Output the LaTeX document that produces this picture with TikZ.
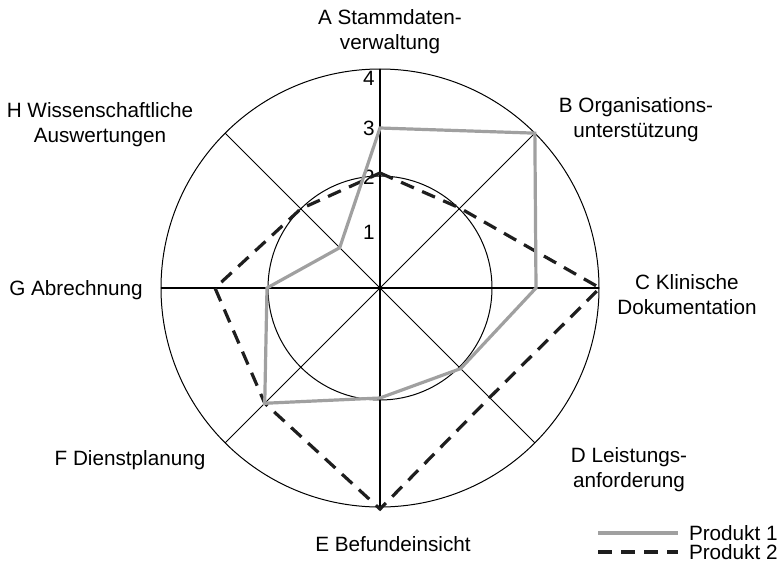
\documentclass[tikz,border=0pt]{standalone}
\usepackage{fontspec}
\setmainfont{Liberation Sans}
\definecolor{prodgray}{RGB}{160,160,160}
\definecolor{proddark}{RGB}{30,30,30}

\begin{document}
\begin{tikzpicture}[x=0.5pt,y=0.5pt,
  ring/.style={draw=black,line width=0.5pt},
  axis/.style={draw=black,line width=0.7pt},
  diag/.style={draw=black,line width=0.5pt},
  prodone/.style={draw=prodgray,line width=1.6pt,line join=miter},
  prodtwo/.style={draw=proddark,line width=1.6pt,dash pattern=on 7pt off 4.5pt,line join=miter},
  catlabel/.style={align=center,inner sep=0pt,font=\fontsize{10.35}{12.5}\selectfont},
  ticklabel/.style={anchor=east,inner sep=0pt,font=\fontsize{10.35}{12.5}\selectfont}
]
  \useasboundingbox (-380,-280) rectangle (400,288);

  % rings and axes
  \draw[ring] (0,0) circle (219);
  \draw[ring] (0,0) circle (112);
  \draw[diag] (135:219) -- (-45:219);
  \draw[diag] (45:219) -- (-135:219);
  \draw[axis] (0,219) -- (0,-219);
  \draw[axis,line width=1pt] (-219,0) -- (219,0);

  % scale
  \node[ticklabel] (t1) at (-5,56) {1};
  \node[ticklabel] (t2) at (-5,111) {2};
  \node[ticklabel] (t3) at (-5,160) {3};
  \node[ticklabel] (t4) at (-5,210) {4};

  % categories
  \node[catlabel] (ca) at (10,256) {A Stammdaten-\\verwaltung};
  \node[catlabel] (cb) at (256,168) {B Organisations-\\unterstützung};
  \node[catlabel] (cc) at (307,-7) {C Klinische\\Dokumentation};
  \node[catlabel] (cd) at (249,-182) {D Leistungs-\\anforderung};
  \node[catlabel] (ce) at (13,-256) {E Befundeinsicht};
  \node[catlabel] (cf) at (-250,-172) {F Dienstplanung};
  \node[catlabel] (cg) at (-304,-2) {G Abrechnung};
  \node[catlabel] (ch) at (-280,163) {H Wissenschaftliche\\Auswertungen};

  % products
  \draw[prodtwo] (90:115) -- (45:113) -- (0:220) -- (-45:155) -- (-90:221)
    -- (-135:163) -- (180:165) -- (135:112) -- cycle;
  \draw[prodone] (90:160) -- (45:219) -- (0:156) -- (-45:114) -- (-90:110)
    -- (-135:163) -- (180:113) -- (135:57) -- cycle;

  % legend
  \coordinate (l1a) at (218,-245);
  \coordinate (l1b) at (298,-245);
  \coordinate (l2a) at (218,-264);
  \coordinate (l2b) at (298,-264);
  \draw[prodone] (l1a) -- (l1b);
  \draw[prodtwo] (l2a) -- (l2b);
  \node[catlabel,anchor=east] (leg1) at (398,-245) {Produkt 1};
  \node[catlabel,anchor=east] (leg2) at (398,-264) {Produkt 2};
\end{tikzpicture}
\end{document}
